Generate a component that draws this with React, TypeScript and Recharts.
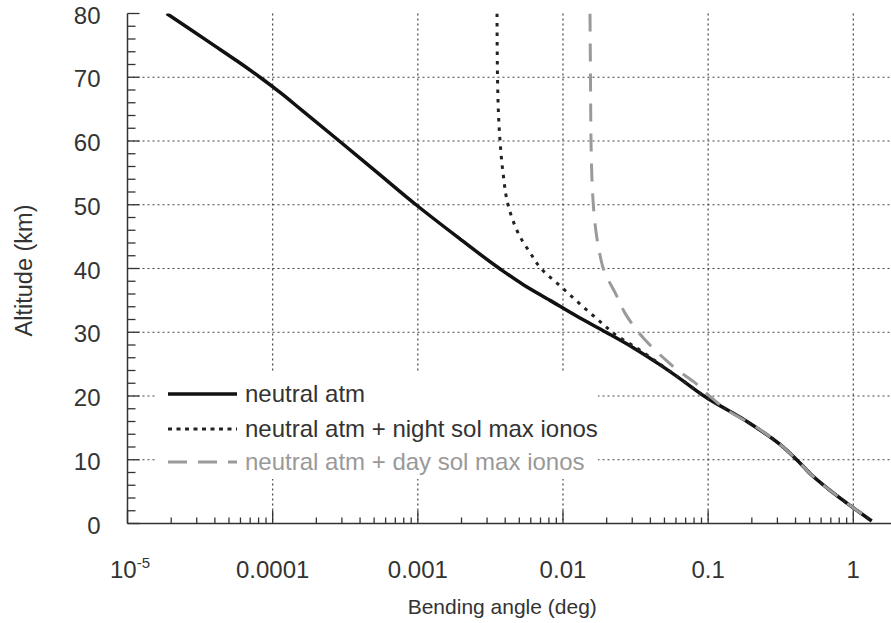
import { LineChart, Line, XAxis, YAxis, CartesianGrid } from 'recharts';

// altitude (km) vs bending angle (deg)
const neutralAlt = [
  80, 77.5, 75, 72.5, 70, 67.5, 65, 60, 55, 50, 45, 40, 37.5, 35, 32.5, 30, 27.5, 25, 22.5, 20, 16, 12.4, 10, 7.4,
  5.2, 2.5, 0.4,
];
const neutralAngle = [
  1.862e-5, 2.716e-5, 3.944e-5, 5.724e-5, 8.178e-5, 1.1415e-4, 1.555e-4, 2.878e-4, 5.29e-4, 9.72e-4, 1.862e-3,
  3.653e-3, 5.3e-3, 8.14e-3, 0.01249, 0.01978, 0.03085, 0.04587, 0.0661, 0.0937, 0.1852, 0.3126, 0.4075, 0.5278,
  0.691, 0.995, 1.339,
];

const nightAlt = [80, 70, 60, 55, 50, 47.5, 45, 42.5, 40, 37, 35, 33.6, 31, 30, 27.5, 25, 22.5, 20, 16, 12.4, 10, 7.4, 5.2, 2.5, 0.4];
const nightAngle = [
  3.512e-3, 3.54e-3, 3.684e-3, 3.863e-3, 4.182e-3, 4.526e-3, 5.057e-3, 5.927e-3, 7.056e-3, 9.85e-3, 0.01229,
  0.01441, 0.01947, 0.02176, 0.03236, 0.0466, 0.0661, 0.0937, 0.1852, 0.3126, 0.4075, 0.5278, 0.691, 0.995, 1.339,
];

const dayAlt = [80, 70, 60, 50, 45, 42.5, 40, 35.7, 33, 30.7, 28.3, 26, 24, 22.3, 19.8, 17.5, 16, 12.4, 10, 7.4, 5.2, 2.5, 0.4];
const dayAngle = [
  0.01535, 0.01547, 0.0156, 0.01618, 0.01707, 0.01785, 0.01896, 0.02345, 0.02675, 0.03135, 0.03852, 0.04911,
  0.06199, 0.07905, 0.1046, 0.1415, 0.1852, 0.3126, 0.4075, 0.5278, 0.691, 0.995, 1.339,
];

const xMajor = [1e-5, 1e-4, 1e-3, 0.01, 0.1, 1];
const xMajorLabels = ['10', '0.0001', '0.001', '0.01', '0.1', '1'];

const legendLabels = [
  'neutral atm',
  'neutral atm + night sol max ionos',
  'neutral atm + day sol max ionos',
];

const FONT = '"Liberation Sans", Arial, Helvetica, sans-serif';
const INK = '#333';

const toRows = (alt: number[], ang: number[]) => alt.map((h, i) => ({ angle: ang[i], alt: h }));

const neutralRows = toRows(neutralAlt, neutralAngle);
const nightRows = toRows(nightAlt, nightAngle);
const dayRows = toRows(dayAlt, dayAngle);

// minor ticks 2..9 in every decade
const xMinor = xMajor.flatMap((d) => [2, 3, 4, 5, 6, 7, 8, 9].map((k) => d * k)).filter((v) => v <= 2);
const xTicks = [...xMajor, ...xMinor].sort((a, b) => a - b);
const yTicks = Array.from({ length: 41 }, (_, i) => i * 2);

function BottomTick(props: any) {
  const { x, y, payload } = props;
  const i = xMajor.indexOf(payload.value);
  const major = i >= 0;
  return (
    <g>
      <line x1={x} y1={y} x2={x} y2={y - (major ? 13 : 6)} stroke={INK} strokeWidth={1.3} />
      {major && i === 0 && (
        <text x={x + 2.5} y={y + 54} textAnchor="middle" fontSize={24} fill={INK} fontFamily={FONT}>
          {xMajorLabels[i]}
          <tspan dy={-10} fontSize={15}>-5</tspan>
        </text>
      )}
      {major && i > 0 && (
        <text x={x} y={y + 54} textAnchor="middle" fontSize={24} fill={INK} fontFamily={FONT}>
          {xMajorLabels[i]}
        </text>
      )}
    </g>
  );
}

function TopTick(props: any) {
  const { x, y, payload } = props;
  const major = xMajor.indexOf(payload.value) >= 0;
  return <line x1={x} y1={y} x2={x} y2={y + (major ? 13 : 7)} stroke={INK} strokeWidth={1.3} />;
}

function LeftTick(props: any) {
  const { x, y, payload } = props;
  const major = payload.value % 10 === 0;
  return (
    <g>
      <line x1={x} y1={y} x2={x + (major ? 12 : 8)} y2={y} stroke={INK} strokeWidth={1.3} />
      {major && (
        <text x={x - 27} y={y + 10} textAnchor="end" fontSize={24} fill={INK} fontFamily={FONT}>
          {payload.value}
        </text>
      )}
    </g>
  );
}

function RightTick(props: any) {
  const { x, y, payload } = props;
  const major = payload.value % 10 === 0;
  return <line x1={x} y1={y} x2={x - (major ? 12 : 8)} y2={y} stroke="#888" strokeWidth={1.3} />;
}

function YTitle(props: any) {
  const { viewBox } = props;
  const cx = viewBox.x + 32;
  const cy = viewBox.y + viewBox.height / 2 + 2;
  return (
    <text
      x={cx}
      y={cy}
      transform={`rotate(-90, ${cx}, ${cy})`}
      textAnchor="middle"
      fontSize={23.5}
      fill={INK}
      fontFamily={FONT}
    >
      Altitude (km)
    </text>
  );
}

function XTitle(props: any) {
  const { viewBox } = props;
  return (
    <text
      x={viewBox.x + viewBox.width / 2 - 10}
      y={viewBox.y + 90}
      textAnchor="middle"
      fontSize={21}
      fill={INK}
      fontFamily={FONT}
    >
      Bending angle (deg)
    </text>
  );
}

function LegendBox() {
  const rows = [
    { y: 22, stroke: '#111', width: 3.5, dash: undefined, color: INK },
    { y: 57, stroke: '#222', width: 3, dash: '4 4.5', color: INK },
    { y: 90, stroke: '#9a9a9a', width: 3, dash: '19 11', color: '#999' },
  ];
  return (
    <div style={{ position: 'absolute', left: 155, top: 372, width: 443, height: 107, background: '#fff' }}>
      <svg width={443} height={107} style={{ display: 'block' }}>
        {rows.map((r, i) => (
          <g key={i}>
            <line x1={13} x2={82} y1={r.y} y2={r.y} stroke={r.stroke} strokeWidth={r.width} strokeDasharray={r.dash} />
            <text x={90} y={r.y + 8} fontSize={24} fill={r.color} fontFamily={FONT}>
              {legendLabels[i]}
            </text>
          </g>
        ))}
      </svg>
    </div>
  );
}

export default function App() {
  return (
    <div
      style={{
        position: 'absolute',
        left: 0,
        top: 0,
        width: 891,
        height: 623,
        overflow: 'hidden',
        background: '#fff',
        fontFamily: FONT,
      }}
    >
      <LineChart width={912} height={623} margin={{ top: 13.5, right: 15, bottom: 0, left: 0 }}>
        <CartesianGrid
          horizontalValues={[10, 20, 30, 40, 50, 60, 70]}
          verticalValues={[1e-4, 1e-3, 0.01, 0.1, 1]}
          stroke="#444"
          strokeWidth={1.2}
          strokeDasharray="2 3"
        />
        <XAxis
          dataKey="angle"
          type="number"
          scale="log"
          domain={[1e-5, 2]}
          allowDataOverflow
          ticks={xTicks}
          interval={0}
          tickSize={0}
          tickMargin={0}
          tickLine={false}
          tick={<BottomTick />}
          axisLine={{ stroke: INK, strokeWidth: 1.5 }}
          height={99.5}
          label={<XTitle />}
        />
        <XAxis
          xAxisId="top"
          orientation="top"
          dataKey="angle"
          type="number"
          scale="log"
          domain={[1e-5, 2]}
          allowDataOverflow
          ticks={xTicks}
          interval={0}
          tickSize={0}
          tickMargin={0}
          tickLine={false}
          tick={<TopTick />}
          axisLine={{ stroke: INK, strokeWidth: 1.5 }}
          height={0}
        />
        <YAxis
          type="number"
          domain={[0, 80]}
          allowDataOverflow
          ticks={yTicks}
          interval={0}
          tickSize={0}
          tickMargin={0}
          tickLine={false}
          tick={<LeftTick />}
          axisLine={{ stroke: INK, strokeWidth: 1.5 }}
          width={127.5}
          label={<YTitle />}
        />
        <YAxis
          yAxisId="right"
          orientation="right"
          type="number"
          domain={[0, 80]}
          allowDataOverflow
          ticks={yTicks}
          interval={0}
          tickSize={0}
          tickMargin={0}
          tickLine={false}
          tick={<RightTick />}
          axisLine={{ stroke: '#888', strokeWidth: 1.5 }}
          width={0}
        />
        <Line
          data={neutralRows}
          dataKey="alt"
          type="monotoneY"
          stroke="#111"
          strokeWidth={3.5}
          dot={false}
          isAnimationActive={false}
        />
        <Line
          data={nightRows}
          dataKey="alt"
          type="monotoneY"
          stroke="#222"
          strokeWidth={3}
          strokeDasharray="3.5 6"
          dot={false}
          isAnimationActive={false}
        />
        <Line
          data={dayRows}
          dataKey="alt"
          type="monotoneY"
          stroke="#9a9a9a"
          strokeWidth={3}
          strokeDasharray="18 12"
          dot={false}
          isAnimationActive={false}
        />
      </LineChart>
      <LegendBox />
    </div>
  );
}
